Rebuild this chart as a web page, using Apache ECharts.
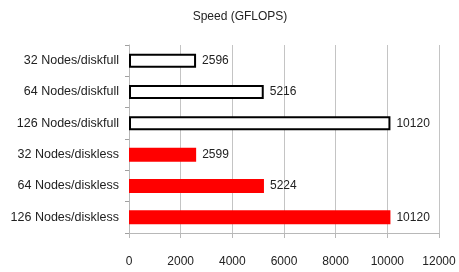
<!DOCTYPE html>
<html>
<head>
<meta charset="utf-8">
<script src="https://cdn.jsdelivr.net/npm/echarts@6/dist/echarts.min.js"></script>
<style>
  html, body { margin: 0; padding: 0; background: #fff; }
  #chart { width: 459px; height: 272px; }
</style>
</head>
<body>
<div id="chart"></div>
<script>
const categories = [
  "32 Nodes/diskfull",
  "64 Nodes/diskfull",
  "126 Nodes/diskfull",
  "32 Nodes/diskless",
  "64 Nodes/diskless",
  "126 Nodes/diskless"
];
const speeds = [2596, 5216, 10120, 2599, 5224, 10120];
const xTicks = [0, 2000, 4000, 6000, 8000, 10000, 12000];

const fontFamily = "Liberation Sans";

const getOption = () => {
  // first three are outlined (diskfull), the rest solid red (diskless)
  const items = speeds.map((v, i) => ({
    value: v,
    itemStyle: i < 3
      ? { color: "#ffffff", borderColor: "#000000", borderWidth: 2 }
      : { color: "#ff0000", borderWidth: 0 }
  }));
  return {
    animation: false,
    title: {
      text: "Speed (GFLOPS)",
      left: 235,
      textAlign: "center",
      top: 6,
      textStyle: { fontSize: 12, fontWeight: "normal", color: "#222", fontFamily: fontFamily }
    },
    grid: { left: 129, right: 20, top: 45, bottom: 39 },
    xAxis: {
      type: "value",
      min: xTicks[0],
      max: xTicks[xTicks.length - 1],
      interval: 2000,
      axisLine: { show: true, lineStyle: { color: "#b8b8b8" } },
      axisTick: { show: true, length: 5, lineStyle: { color: "#b8b8b8" } },
      splitLine: { show: true, lineStyle: { color: "#c4c4c4" } },
      axisLabel: {
        margin: 23, fontSize: 12, color: "#222", fontFamily: fontFamily,
        formatter: (v) => String(v)
      }
    },
    yAxis: {
      type: "category",
      inverse: true,
      data: categories,
      axisLine: { show: true, lineStyle: { color: "#b8b8b8" } },
      axisTick: { show: true, length: 4, lineStyle: { color: "#a0a0a0" } },
      axisLabel: { margin: 10, fontSize: 12.5, color: "#222", fontFamily: fontFamily }
    },
    series: [
      {
        type: "bar",
        data: items,
        barWidth: 14,
        label: {
          show: true,
          position: "right",
          distance: 6,
          fontSize: 12,
          color: "#222",
          fontFamily: fontFamily
        }
      }
    ]
  };
};

const chart = echarts.init(document.getElementById("chart"));
chart.setOption(getOption());
</script>
</body>
</html>
